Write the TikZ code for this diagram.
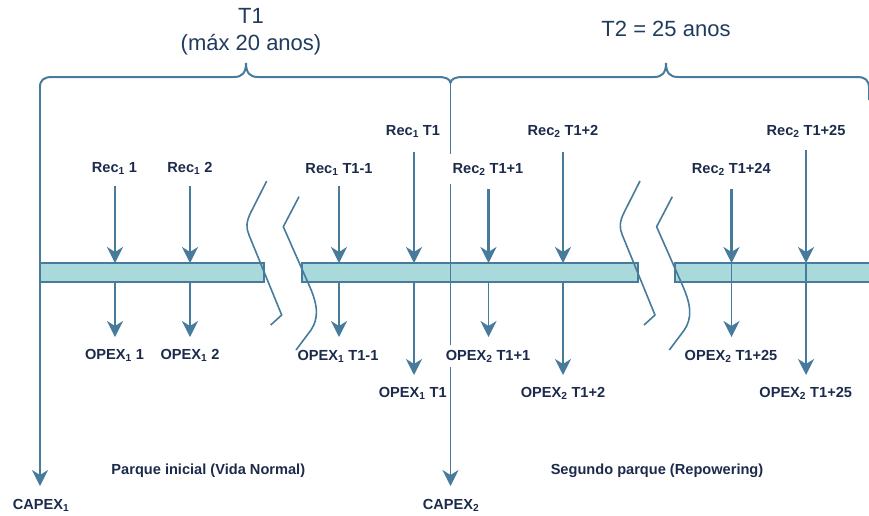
\documentclass[tikz,border=0pt]{standalone}
\usepackage{fontspec}
\setmainfont{Liberation Sans}
\usetikzlibrary{arrows.meta}
\definecolor{ln}{HTML}{467B9C}
\definecolor{barfill}{HTML}{A9D9DA}
\definecolor{txt}{HTML}{1C2B4B}
\definecolor{ttl}{HTML}{1F3B5E}
\begin{document}
\begin{tikzpicture}[x=1pt,y=-1pt,
  lbl/.style={font=\fontsize{14.6}{16}\selectfont\bfseries, text=txt, inner sep=2pt, anchor=base},
  ttlstyle/.style={font=\fontsize{22}{26}\selectfont, text=ttl, inner sep=0pt, anchor=base},
  barbox/.style={draw=ln, fill=barfill, line width=2pt, minimum height=19pt, inner sep=0pt, outer sep=0pt},
  arr/.style={draw=ln, line width=2.2pt, -{Stealth[length=16pt,width=16pt,inset=5pt]}},
  midarr/.style={draw=ln, line width=1.9pt, -{Stealth[length=16pt,width=16pt,inset=5pt]}},
  thinarr/.style={draw=ln, line width=1.6pt, -{Stealth[length=16pt,width=16pt,inset=5pt]}},
  brk/.style={draw=ln, line width=1.6pt, line join=round},
  bracestyle/.style={draw=ln, line width=2pt},
  ]
\useasboundingbox (0,0) rectangle (869,515);

% bars
\node[barbox, minimum width=224pt] (bar1) at (152,272.5) {};
\node[barbox, minimum width=336pt] (bar2) at (470,272.5) {};
\node[barbox, minimum width=210pt] (bar3) at (780,272.5) {};

% break marks
\foreach \dx in {0,373.3}{
  \begin{scope}[xshift=\dx]
  \draw[brk] (266.7,181) -- (251,212) .. controls (246,222) and (246,228) .. (249,235) -- (281.7,315) -- (270.7,325);
  \draw[brk] (299,196.7) -- (283.3,226.7) -- (309,285) .. controls (318,305) and (319,318) .. (311,330) -- (296,350);
  \end{scope}
}

% braces
\coordinate (b1l) at (40,87);
\coordinate (t1top) at (450.5,83);
\draw[bracestyle] (b1l) .. controls (40,80) and (44,77) .. (52,77) -- (234,77)
   .. controls (242,77) and (246,73) .. (246,63)
   .. controls (246,73) and (250,77) .. (258,77) -- (438,77)
   .. controls (446,77) and (450,79) .. (t1top);
\draw[bracestyle] (t1top) .. controls (451,79) and (455,77) .. (463,77) -- (654,77)
   .. controls (662,77) and (666,73) .. (666,63)
   .. controls (666,73) and (670,77) .. (678,77) -- (857,77)
   .. controls (865,77) and (869,80) .. (869,88) -- (869,100);

% titles
\node[ttlstyle] (t1a) at (251,23.5) {T1};
\node[ttlstyle] (t1b) at (251,50) {(máx 20 anos)};
\node[ttlstyle] (t2) at (666,36) {T2 = 25 anos};

% capex lines
\coordinate (cx1) at (40,486);
\coordinate (cx2) at (450.5,486);
\draw[thinarr] (b1l) -- (cx1);
\draw[thinarr] (t1top) -- (cx2);
\node[lbl] (capex1) at (41,509.3) {CAPEX\textsubscript{1}};
\node[lbl] (capex2) at (451,509.3) {CAPEX\textsubscript{2}};

% Rec / OPEX arrows
\coordinate (a1) at (115,186);   \coordinate (o1) at (115,337);
\coordinate (a2) at (190,186);   \coordinate (o2) at (190,337);
\coordinate (a3) at (339,186);   \coordinate (o3) at (339,337);
\coordinate (a4) at (414,152);   \coordinate (o4) at (414,375);
\coordinate (a5) at (488.5,189); \coordinate (o5) at (488.5,337);
\coordinate (a6) at (563,152);   \coordinate (o6) at (563,375);
\coordinate (a7) at (731.5,189); \coordinate (o7) at (731.5,337);
\coordinate (a8) at (806,150);   \coordinate (o8) at (806,375);

\foreach \i in {1,2}{
  \draw[arr] (a\i) -- (a\i |- bar1.north);
  \draw[midarr] (o\i |- bar1.south) -- (o\i);
}
\foreach \i in {3,4,5,6}{
  \draw[arr] (a\i) -- (a\i |- bar2.north);
  \draw[midarr] (o\i |- bar2.south) -- (o\i);
}
\foreach \i in {7,8}{
  \draw[arr] (a\i) -- (a\i |- bar3.north);
  \draw[midarr] (o\i |- bar3.north) -- (o\i);
}

% labels
\node[lbl] (r1) at (114.5,172.7) {Rec\textsubscript{1} 1};
\node[lbl] (r2) at (190,172.7) {Rec\textsubscript{1} 2};
\node[lbl] (r3) at (339,173.3) {Rec\textsubscript{1} T1-1};
\node[lbl] (r4) at (413,135.7) {Rec\textsubscript{1} T1};
\node[lbl, fill=white, inner ysep=9pt, inner xsep=4pt] (r5) at (488,173.3) {Rec\textsubscript{2} T1+1};
\node[lbl] (r6) at (563,135.7) {Rec\textsubscript{2} T1+2};
\node[lbl] (r7) at (731.3,173.3) {Rec\textsubscript{2} T1+24};
\node[lbl] (r8) at (806,135.7) {Rec\textsubscript{2} T1+25};

\node[lbl] (p1) at (114.5,359.7) {OPEX\textsubscript{1} 1};
\node[lbl] (p2) at (190,359.7) {OPEX\textsubscript{1} 2};
\node[lbl] (p3) at (338,360) {OPEX\textsubscript{1} T1-1};
\node[lbl] (p4) at (412.8,397.3) {OPEX\textsubscript{1} T1};
\node[lbl, fill=white, inner ysep=5pt] (p5) at (488,360) {OPEX\textsubscript{2} T1+1};
\node[lbl] (p6) at (563,397.3) {OPEX\textsubscript{2} T1+2};
\node[lbl] (p7) at (731,360) {OPEX\textsubscript{2} T1+25};
\node[lbl] (p8) at (805.7,397.3) {OPEX\textsubscript{2} T1+25};

\node[lbl] (park1) at (208.3,474.3) {Parque inicial (Vida Normal)};
\node[lbl] (park2) at (657,474.3) {Segundo parque (Repowering)};
\end{tikzpicture}
\end{document}
